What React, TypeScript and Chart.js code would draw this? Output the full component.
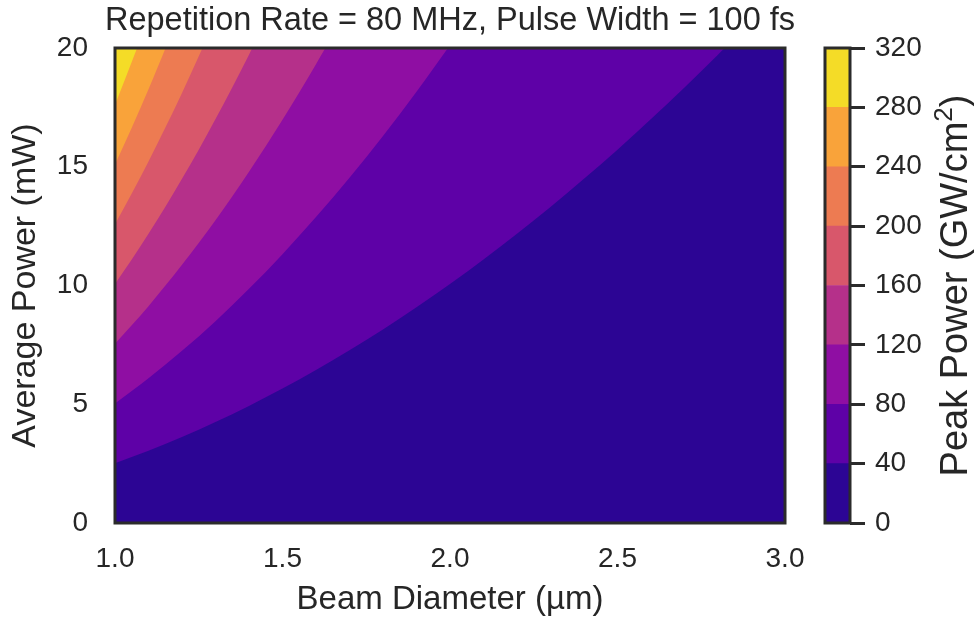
import React, { useEffect, useRef } from "react";
import { Chart, registerables } from "chart.js";

Chart.register(...registerables);

const chartTitle = "Repetition Rate = 80 MHz, Pulse Width = 100 fs";
const xTitle = "Beam Diameter (µm)";
const yTitle = "Average Power (mW)";
const cbTitleMain = "Peak Power (GW/cm";
const cbTitleSup = "2";
const cbTitleEnd = ")";

const xTicks = [1.0, 1.5, 2.0, 2.5, 3.0];
const yTicks = [0, 5, 10, 15, 20];
const levels = [0, 40, 80, 120, 160, 200, 240, 280, 320];
const levelColors = ["#2c0594", "#5e01a7", "#8f0ea3", "#b5308a", "#d8576b", "#ed7b52", "#f9a33a", "#f4dc27"];

// contour boundaries: beam diameter (µm) / average power (mW)
const b40D = [1.0, 1.1, 1.2, 1.3, 1.4, 1.5, 1.6, 1.7, 1.8, 1.9, 2.0, 2.1, 2.2, 2.3, 2.4, 2.5, 2.6, 2.7, 2.8, 2.82];
const b40P = [2.52, 3.04, 3.62, 4.25, 4.93, 5.66, 6.44, 7.27, 8.15, 9.08, 10.06, 11.09, 12.18, 13.31, 14.49, 15.72, 17.01, 18.34, 19.72, 20.0];
const b80D = [1.0, 1.1, 1.2, 1.3, 1.4, 1.5, 1.6, 1.7, 1.8, 1.9, 1.994];
const b80P = [5.03, 6.09, 7.25, 8.5, 9.86, 11.32, 12.88, 14.54, 16.3, 18.16, 20.0];
const b120D = [1.0, 1.1, 1.2, 1.3, 1.4, 1.5, 1.6, 1.628];
const b120P = [7.55, 9.13, 10.87, 12.75, 14.79, 16.98, 19.32, 20.0];
const b160D = [1.0, 1.05, 1.1, 1.15, 1.2, 1.25, 1.3, 1.35, 1.4, 1.41];
const b160P = [10.06, 11.09, 12.18, 13.31, 14.49, 15.72, 17.01, 18.34, 19.72, 20.0];
const b200D = [1.0, 1.05, 1.1, 1.15, 1.2, 1.25, 1.261];
const b200P = [12.58, 13.87, 15.22, 16.64, 18.11, 19.65, 20.0];
const b240D = [1.0, 1.05, 1.1, 1.151];
const b240P = [15.09, 16.64, 18.26, 20.0];
const b280D = [1.0, 1.03, 1.066];
const b280P = [17.61, 18.68, 20.0];
const b0D = [1.0, 3.0];
const b0P = [0, 0];

const FONT = "'Liberation Sans', Arial, Helvetica, sans-serif";
const TEXT = "#262626";
const FRAME = "#2b2b2b";

const framePlugin = {
  id: "frame",
  afterDatasetsDraw(chart: any) {
    const { ctx, chartArea } = chart;
    const { left, top, right, bottom } = chartArea;
    ctx.save();
    ctx.strokeStyle = FRAME;
    ctx.lineWidth = 3;
    ctx.strokeRect(left, top, right - left, bottom - top);
    ctx.restore();
  },
};

const titlePlugin = {
  id: "centerTitle",
  afterDraw(chart: any) {
    const { ctx, chartArea } = chart;
    ctx.save();
    ctx.fillStyle = TEXT;
    ctx.font = `32.5px ${FONT}`;
    ctx.textAlign = "center";
    ctx.textBaseline = "middle";
    ctx.fillText(chartTitle, (chartArea.left + chartArea.right) / 2, 21);
    ctx.restore();
  },
};

function pts(d: number[], p: number[]) {
  return d.map((x, i) => ({ x, y: p[i] }));
}

export default function App() {
  const mainRef = useRef<HTMLCanvasElement>(null);
  const cbRef = useRef<HTMLCanvasElement>(null);

  useEffect(() => {
    document.body.style.margin = "0";
    const boundaries = [
      [b280D, b280P],
      [b240D, b240P],
      [b200D, b200P],
      [b160D, b160P],
      [b120D, b120P],
      [b80D, b80P],
      [b40D, b40P],
      [b0D, b0P],
    ];
    const datasets = boundaries.map((b, i) => ({
      data: pts(b[0], b[1]),
      backgroundColor: levelColors[levelColors.length - 1 - i],
      borderWidth: 0,
      borderColor: "rgba(0,0,0,0)",
      pointRadius: 0,
      fill: "end",
      cubicInterpolationMode: "monotone",
    }));

    const main = new Chart(mainRef.current!, {
      type: "line",
      data: { datasets } as any,
      options: {
        animation: false,
        responsive: false,
        layout: { padding: { left: 0, right: 45, top: 48, bottom: 0 } },
        plugins: {
          legend: { display: false },
          tooltip: { enabled: false },
          title: { display: false },
        },
        scales: {
          x: {
            type: "linear",
            min: 1,
            max: 3,
            afterBuildTicks: (s: any) => {
              s.ticks = xTicks.map((v) => ({ value: v }));
            },
            afterFit: (s: any) => {
              s.height = 100;
            },
            ticks: {
              callback: (v: any) => Number(v).toFixed(1),
              color: TEXT,
              font: { family: FONT, size: 28 },
              padding: 19,
              maxRotation: 0,
            },
            grid: { display: false, drawTicks: false },
            border: { display: false },
            title: {
              display: true,
              text: xTitle,
              color: TEXT,
              font: { family: FONT, size: 33 },
              padding: { top: 0, bottom: 3 },
            },
          },
          y: {
            type: "linear",
            min: 0,
            max: 20,
            afterBuildTicks: (s: any) => {
              s.ticks = yTicks.map((v) => ({ value: v }));
            },
            afterFit: (s: any) => {
              s.width = 115;
            },
            ticks: {
              callback: (v: any) => String(v),
              color: TEXT,
              font: { family: FONT, size: 28 },
              padding: 27,
            },
            grid: { display: false, drawTicks: false },
            border: { display: false },
            title: {
              display: true,
              text: yTitle,
              color: TEXT,
              font: { family: FONT, size: 34 },
              padding: { top: 5, bottom: 0 },
            },
          },
        },
      } as any,
      plugins: [framePlugin, titlePlugin],
    });

    const cbLabelPlugin = {
      id: "cbLabel",
      afterDraw(chart: any) {
        const { ctx, chartArea } = chart;
        const size = 38;
        const supSize = 26;
        ctx.save();
        ctx.fillStyle = TEXT;
        ctx.textAlign = "left";
        ctx.textBaseline = "alphabetic";
        ctx.font = `${size}px ${FONT}`;
        const wMain = ctx.measureText(cbTitleMain).width;
        const wEnd = ctx.measureText(cbTitleEnd).width;
        ctx.font = `${supSize}px ${FONT}`;
        const wSup = ctx.measureText(cbTitleSup).width;
        const total = wMain + wSup + wEnd;
        ctx.translate(174, (chartArea.top + chartArea.bottom) / 2);
        ctx.rotate(-Math.PI / 2);
        const base = size * 0.35;
        let x = -total / 2;
        ctx.font = `${size}px ${FONT}`;
        ctx.fillText(cbTitleMain, x, base);
        x += wMain;
        ctx.font = `${supSize}px ${FONT}`;
        ctx.fillText(cbTitleSup, x, base - size * 0.4);
        x += wSup;
        ctx.font = `${size}px ${FONT}`;
        ctx.fillText(cbTitleEnd, x, base);
        ctx.restore();
      },
    };

    const cb = new Chart(cbRef.current!, {
      type: "bar",
      data: {
        labels: [""],
        datasets: levelColors.map((c, i) => ({
          data: [[levels[i], levels[i + 1]]],
          backgroundColor: c,
          borderWidth: 0,
          barPercentage: 1,
          categoryPercentage: 1,
          grouped: false,
        })),
      } as any,
      options: {
        animation: false,
        responsive: false,
        layout: { padding: { left: 45, right: 0, top: 48, bottom: 100 } },
        plugins: { legend: { display: false }, tooltip: { enabled: false }, title: { display: false } },
        scales: {
          x: { display: false },
          y: {
            position: "right",
            min: 0,
            max: 320,
            afterBuildTicks: (s: any) => {
              s.ticks = levels.map((v) => ({ value: v }));
            },
            afterFit: (s: any) => {
              s.width = 124;
            },
            ticks: {
              color: TEXT,
              font: { family: FONT, size: 28 },
              padding: 10,
            },
            grid: {
              display: true,
              drawOnChartArea: false,
              drawTicks: true,
              tickLength: 15,
              tickWidth: 3,
              tickColor: FRAME,
            },
            border: { display: false },
          },
        },
      } as any,
      plugins: [framePlugin, cbLabelPlugin],
    });

    return () => {
      main.destroy();
      cb.destroy();
    };
  }, []);

  return (
    <div style={{ position: "relative", width: 974, height: 623, background: "#fff" }}>
      <canvas ref={mainRef} width={830} height={623} style={{ position: "absolute", left: 0, top: 0 }} />
      <canvas ref={cbRef} width={194} height={623} style={{ position: "absolute", left: 780, top: 0 }} />
    </div>
  );
}
